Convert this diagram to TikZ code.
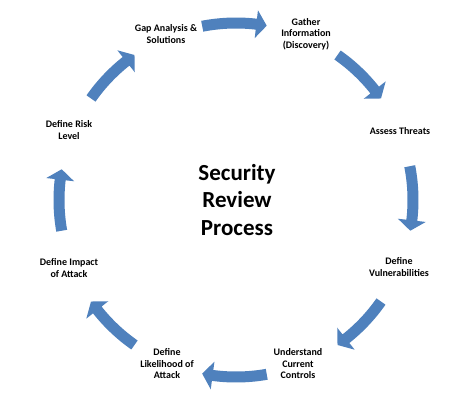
\documentclass[tikz,border=0pt]{standalone}
\usepackage{fontspec}
\setmainfont{Carlito}
\definecolor{arrowblue}{RGB}{79,129,189}
\begin{document}
\begin{tikzpicture}[x=1pt,y=1pt,
  lbl/.style={align=center, font=\bfseries\fontsize{10}{11.5}\selectfont, inner sep=0pt},
  title/.style={align=center, font=\bfseries\fontsize{23}{27.5}\selectfont, inner sep=0pt},
  cyclearrow/.style={fill=arrowblue, draw=none}]
\fill[white] (0,0) rectangle (474,400);
\useasboundingbox (0,0) rectangle (474,400);
\coordinate (C) at (236,200);
\node[title] (centre) at (237,200) {Security\\Review\\Process};
\node[lbl] (gap) at (166,366) {Gap Analysis \&\\Solutions};
\node[lbl] (gather) at (306,366) {Gather\\Information\\(Discovery)};
\node[lbl] (assess) at (400,269) {Assess Threats};
\node[lbl] (vuln) at (399,133) {Define\\Vulnerabilities};
\node[lbl] (controls) at (298,36) {Understand\\Current\\Controls};
\node[lbl] (likely) at (167,36) {Define\\Likelihood of\\Attack};
\node[lbl] (impact) at (69,132) {Define Impact\\of Attack};
\node[lbl] (risk) at (69,270) {Define Risk\\Level};
\foreach \a/\b [evaluate=\b as \h using \b+3.4] in {101/80, 55/35, 11/-10, -35/-55, -80/-101, -125/-145, 190/170, 145/125}
  \fill[cyclearrow, shift={(C)}] (\a:182.5) arc[start angle=\a, end angle=\h, radius=182.5]
     -- (\h:191) -- (\b:177) -- (\h:163) -- (\h:171.5)
     arc[start angle=\h, end angle=\a, radius=171.5] -- cycle;
\end{tikzpicture}
\end{document}
